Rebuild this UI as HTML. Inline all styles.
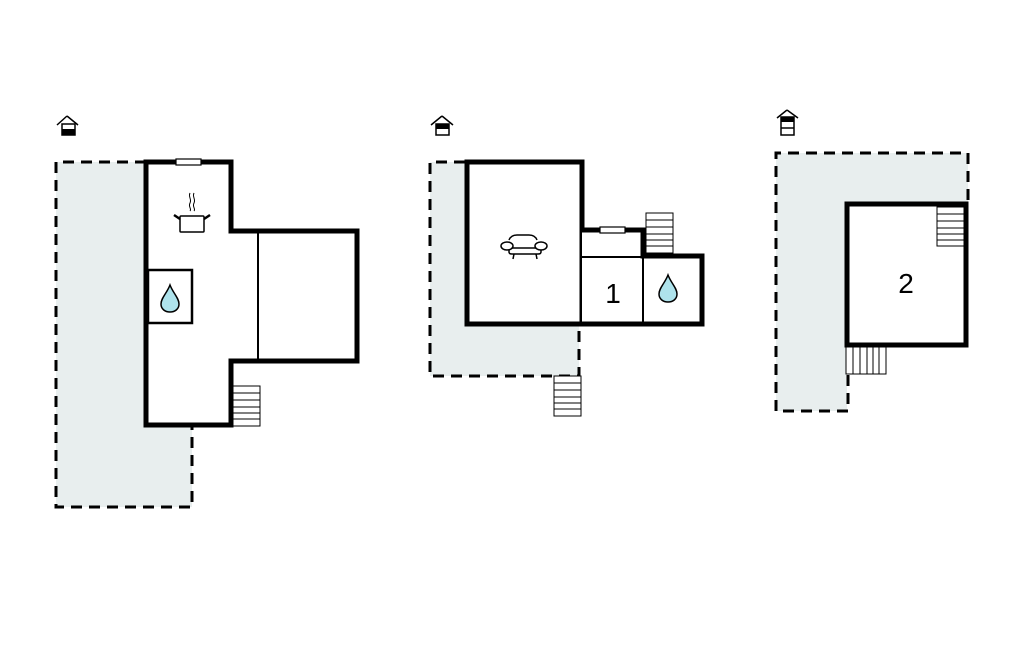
<!DOCTYPE html>
<html><head><meta charset="utf-8"><style>
html,body{margin:0;padding:0;background:#fff;}
svg{display:block;}
text{font-family:"Liberation Sans",sans-serif;}
</style></head><body>
<svg width="1024" height="652" viewBox="0 0 1024 652" xmlns="http://www.w3.org/2000/svg">
<defs>
<g id="drop"><path d="M0,-13 C3,-5 9,0 9,6 C9,11 5,14 0,14 C-5,14 -9,11 -9,6 C-9,0 -3,-5 0,-13 Z" fill="#aee3ec" stroke="#000" stroke-width="1.5"/></g>
</defs>

<!-- Plan 1 -->
<g>
<path d="M67,116 L57,125 M67,116 L78,125" stroke="#000" stroke-width="1.5" fill="none"/>
<rect x="62" y="124" width="13" height="11" fill="#fff" stroke="#000" stroke-width="1.5"/>
<rect x="62" y="129" width="13" height="6" fill="#000"/>
</g>
<path d="M56,162 L146,162 L146,425 L192,425 L192,507 L56,507 Z" fill="#e8eeee"/>
<path d="M146,162 L56,162 L56,507 L192,507 L192,425" fill="none" stroke="#000" stroke-width="3" stroke-dasharray="11,7"/>
<path d="M146,162 L231,162 L231,231 L357,231 L357,361 L231,361 L231,425 L146,425 Z" fill="#fff" stroke="#000" stroke-width="5"/>
<line x1="258" y1="231" x2="258" y2="361" stroke="#000" stroke-width="2"/>
<rect x="148" y="270" width="44" height="53" fill="#fff" stroke="#000" stroke-width="2.5"/>
<use href="#drop" x="170" y="298"/>
<rect x="176" y="159" width="25" height="6" fill="#fff" stroke="#000" stroke-width="1.2"/>
<g stroke="#000" fill="none" stroke-width="1">
<path d="M190,193 c-2,4 2,6 0,10 c-2,4 2,6 0,8"/>
<path d="M194,193 c-2,4 2,6 0,10 c-2,4 2,6 0,8"/>
</g>
<rect x="180" y="216" width="24" height="16" fill="#fff" stroke="#000" stroke-width="1.5" rx="1"/>
<path d="M180,219 L174,215 M204,219 L210,215" stroke="#000" stroke-width="2.5"/>
<g stroke="#000" stroke-width="1">
<rect x="233" y="386" width="27" height="40" fill="#fff"/>
<line x1="233" y1="393" x2="260" y2="393"/><line x1="233" y1="400" x2="260" y2="400"/>
<line x1="233" y1="407" x2="260" y2="407"/><line x1="233" y1="413" x2="260" y2="413"/>
<line x1="233" y1="419" x2="260" y2="419"/>
</g>

<!-- Plan 2 -->
<g>
<path d="M442,116 L431,125 M442,116 L453,125" stroke="#000" stroke-width="1.5" fill="none"/>
<rect x="436" y="124" width="13" height="11" fill="#fff" stroke="#000" stroke-width="1.5"/>
<rect x="436" y="124" width="13" height="5" fill="#000"/>
</g>
<path d="M430,162 L467,162 L467,324 L579,324 L579,376 L430,376 Z" fill="#e8eeee"/>
<path d="M465,162 L430,162 L430,376 L579,376 L579,324" fill="none" stroke="#000" stroke-width="3" stroke-dasharray="11,7"/>
<rect x="467" y="162" width="115" height="162" fill="#fff" stroke="#000" stroke-width="5"/>
<path d="M582,230 L643,230 L643,256 L702,256 L702,324 L582,324" fill="#fff" stroke="#000" stroke-width="5"/>
<line x1="582" y1="257" x2="643" y2="257" stroke="#000" stroke-width="2"/>
<line x1="643" y1="257" x2="643" y2="324" stroke="#000" stroke-width="2"/>
<rect x="600" y="227" width="25" height="6" fill="#fff" stroke="#000" stroke-width="1.2"/>
<g stroke="#000" stroke-width="1">
<rect x="646" y="213" width="27" height="40" fill="#fff"/>
<line x1="646" y1="220" x2="673" y2="220"/><line x1="646" y1="227" x2="673" y2="227"/>
<line x1="646" y1="234" x2="673" y2="234"/><line x1="646" y1="240" x2="673" y2="240"/>
<line x1="646" y1="246" x2="673" y2="246"/>
<rect x="554" y="376" width="27" height="40" fill="#fff"/>
<line x1="554" y1="383" x2="581" y2="383"/><line x1="554" y1="390" x2="581" y2="390"/>
<line x1="554" y1="397" x2="581" y2="397"/><line x1="554" y1="403" x2="581" y2="403"/>
<line x1="554" y1="409" x2="581" y2="409"/>
</g>
<text x="613" y="303" font-size="28" text-anchor="middle">1</text>
<use href="#drop" x="668" y="288"/>
<g stroke="#000" stroke-width="1.5" fill="#fff">
<path d="M509,240 q2,-5 8,-5 h12 q6,0 8,5"/>
<path d="M509,248 v4 q0,2 3,2 h26 q3,0 3,-2 v-4"/>
<line x1="507" y1="248" x2="545" y2="248"/>
<ellipse cx="507" cy="246" rx="6" ry="4"/>
<ellipse cx="541" cy="246" rx="6" ry="4"/>
<path d="M514,254 l-1,5 M536,254 l1,5"/>
</g>

<!-- Plan 3 -->
<g>
<path d="M787,110 L777,118 M787,110 L798,118" stroke="#000" stroke-width="1.5" fill="none"/>
<rect x="781" y="117" width="13" height="18" fill="#fff" stroke="#000" stroke-width="1.5"/>
<rect x="781" y="117" width="13" height="5" fill="#000"/>
<line x1="781" y1="128" x2="794" y2="128" stroke="#000" stroke-width="1.5"/>
</g>
<path d="M776,153 L968,153 L968,204 L847,204 L847,411 L776,411 Z" fill="#e8eeee"/>
<path d="M968,200 L968,153 L776,153 L776,411 L848,411 L848,375" fill="none" stroke="#000" stroke-width="3" stroke-dasharray="11,7"/>
<rect x="847" y="204" width="119" height="141" fill="#fff" stroke="#000" stroke-width="5"/>
<g stroke="#000" stroke-width="1">
<rect x="937" y="207" width="27" height="39" fill="#fff"/>
<line x1="937" y1="214" x2="964" y2="214"/><line x1="937" y1="221" x2="964" y2="221"/>
<line x1="937" y1="228" x2="964" y2="228"/><line x1="937" y1="234" x2="964" y2="234"/>
<line x1="937" y1="240" x2="964" y2="240"/>
<rect x="846" y="347" width="40" height="27" fill="#fff"/>
<line x1="853" y1="347" x2="853" y2="374"/><line x1="860" y1="347" x2="860" y2="374"/>
<line x1="867" y1="347" x2="867" y2="374"/><line x1="873" y1="347" x2="873" y2="374"/>
<line x1="879" y1="347" x2="879" y2="374"/>
</g>
<text x="906" y="293" font-size="28" text-anchor="middle">2</text>
</svg>
</body></html>
